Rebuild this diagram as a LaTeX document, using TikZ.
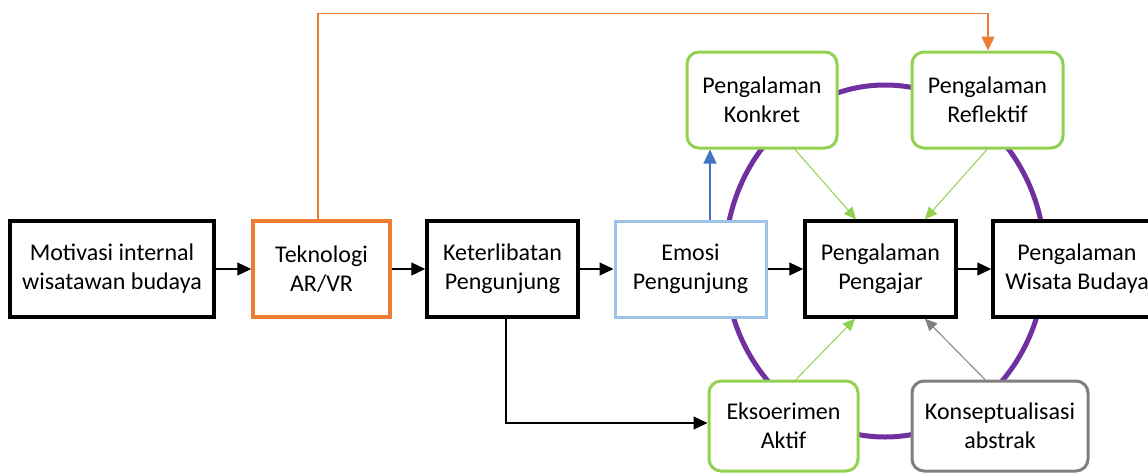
\documentclass[tikz,border=0pt]{standalone}
\usepackage{fontspec}
\setmainfont{Carlito}
\usepackage{tikz}
\usetikzlibrary{positioning,calc,arrows.meta}
\definecolor{KolbOrange}{RGB}{237, 125, 49}
\definecolor{KolbBlue}{RGB}{157, 195, 230}
\definecolor{KolbArrowBlue}{RGB}{68, 114, 196}
\definecolor{KolbGreen}{RGB}{146, 208, 80}
\definecolor{KolbGrey}{RGB}{127, 127, 127}
\definecolor{KolbPurple}{RGB}{112, 48, 160}
\tikzset{
  stagebox/.style={draw=black, line width=3.5pt, fill=white, minimum height=96pt, align=center, inner sep=0pt,
    font=\fontsize{24}{29}\selectfont},
  cyclebox/.style={stagebox, draw=KolbGreen, line width=3pt, rounded corners=12pt},
  flow/.style={-{Triangle[length=14pt,width=13pt]}, line width=1.2pt},
  feed/.style={-{Triangle[length=12pt,width=11pt]}, line width=1pt, KolbGreen}
}
\begin{document}
\begin{tikzpicture}[x=1pt, y=-1pt]
  \useasboundingbox (0,0) rectangle (1148,474);
  % learning cycle ring
  \draw[KolbPurple, line width=5pt] (885,261) ellipse [x radius=160, y radius=176];

  \node[stagebox, minimum width=204pt] (motivasi) at (112,269) {Motivasi internal\\wisatawan budaya};
  \node[stagebox, draw=KolbOrange, minimum width=137pt] (teknologi) at (321.5,269) {Teknologi\\AR/VR};
  \node[stagebox, minimum width=151pt] (keterlibatan) at (502.5,269) {Keterlibatan\\Pengunjung};
  \node[stagebox, draw=KolbBlue, line width=3pt, minimum width=151pt] (emosi) at (690.5,269) {Emosi\\Pengunjung};
  \node[stagebox, minimum width=151pt] (pengajar) at (880.5,269) {Pengalaman\\Pengajar};
  \node[stagebox, minimum width=168pt] (wisata) at (1077,269) {Pengalaman\\Wisata Budaya};

  \node[cyclebox, minimum width=150pt] (konkret) at (762,100) {Pengalaman\\Konkret};
  \node[cyclebox, minimum width=151pt] (reflektif) at (987.5,100) {Pengalaman\\Reflektif};
  \node[cyclebox, minimum width=149pt, minimum height=90pt] (eksperimen) at (783.5,426) {Eksoerimen\\Aktif};
  \node[cyclebox, draw=KolbGrey, minimum width=176pt, minimum height=90pt] (konsep) at (1000,426) {Konseptualisasi\\abstrak};

  % main chain
  \draw[flow] (motivasi) -- (teknologi);
  \draw[flow] (teknologi) -- (keterlibatan);
  \draw[flow] (keterlibatan) -- (emosi);
  \draw[flow] (emosi) -- (pengajar);
  \draw[flow] (pengajar) -- (wisata);

  \coordinate (atas) at (0,13.5);
  \coordinate (tekup) at ([xshift=-3.5pt]teknologi.north);
  \draw[flow, KolbOrange] (tekup) -- (tekup |- atas) -| ([xshift=0.5pt]reflektif.north);
  \coordinate (emosiup) at ($(emosi.north)+(19.5,0)$);
  \draw[flow, KolbArrowBlue] (emosiup) -- (emosiup |- konkret.south);
  \draw[flow] ([xshift=3.5pt]keterlibatan.south) |- ($(eksperimen.west)+(0,-3)$);

  % cycle to teacher experience
  \draw[feed] ([xshift=33pt]konkret.south) -- ([xshift=-24.5pt]pengajar.north);
  \draw[feed] ([xshift=-0.5pt]reflektif.south) -- ([xshift=44.5pt]pengajar.north);
  \draw[feed] ([xshift=12.5pt]eksperimen.north) -- ([xshift=-25.5pt]pengajar.south);
  \draw[feed, KolbGrey] ([xshift=-15pt]konsep.north) -- ([xshift=44.5pt]pengajar.south);
\end{tikzpicture}
\end{document}
